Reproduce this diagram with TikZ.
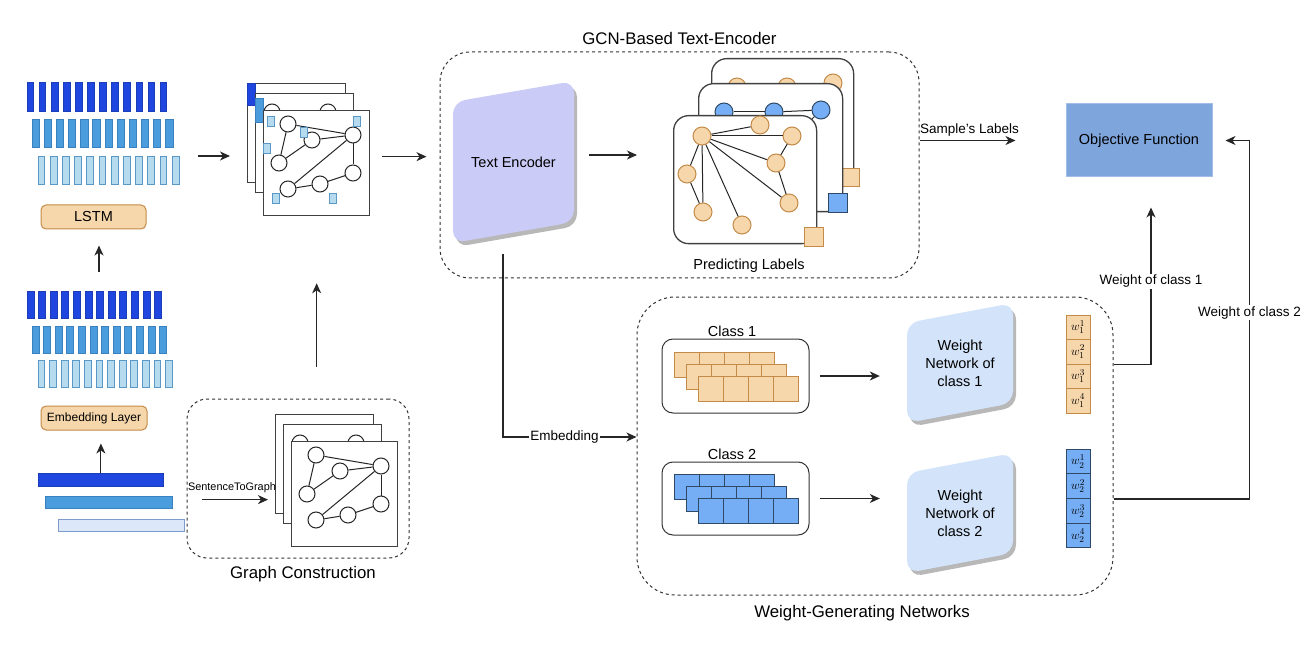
\documentclass[tikz,border=0pt]{standalone}
\usepackage{fontspec}
\setmainfont{Liberation Sans}
\usetikzlibrary{arrows.meta, positioning, calc}

\definecolor{barA}{HTML}{1F47E0}
\definecolor{barAd}{HTML}{1C3DB8}
\definecolor{barB}{HTML}{4A9CDC}
\definecolor{barBd}{HTML}{3A82BF}
\definecolor{barC}{HTML}{B6DAEE}
\definecolor{barCd}{HTML}{5A98C7}
\definecolor{tokC}{HTML}{DCE8FA}
\definecolor{tokCd}{HTML}{7D9CCB}
\definecolor{peachF}{HTML}{F6D6AB}
\definecolor{peachD}{HTML}{C48A47}
\definecolor{blueF}{HTML}{76AEF5}
\definecolor{blueD}{HTML}{2E4A66}
\definecolor{encF}{HTML}{CBCBF7}
\definecolor{wnF}{HTML}{D3E4FA}
\definecolor{objF}{HTML}{7FA5DD}
\definecolor{objD}{HTML}{A3BFE8}

% stack of three graph sheets: #1,#2 top-left of front sheet, #3 name prefix,
% #4 drawn on the back sheet, #5 drawn on the middle sheet
\newcommand{\graphstack}[5]{%
  \node[sheet, minimum width=98, minimum height=99] (#3b) at (#1-16,#2-27) {};
  #4
  \node[sheet, minimum width=98, minimum height=99] (#3m) at (#1-8,#2-17) {};
  \node[gnode] (#3m1) at (#1+9,#2+2) {};
  \node[gnode] (#3m2) at (#1+65,#2+2) {};
  #5
  \node[sheet, minimum width=106, minimum height=105] (#3f) at (#1,#2) {};
  \foreach \k/\px/\py in {1/25/14, 2/49/30, 3/90/25, 4/16/53, 5/90/63, 6/57/74, 7/25/79}
    \node[gnode] (#3\k) at (#1+\px,#2+\py) {};
  \foreach \a/\b in {1/3, 1/4, 4/2, 2/3, 3/5, 3/7, 7/6, 6/5}
    \draw[gedge] (#3\a) -- (#3\b);
}

% slanted block with shadow: x, y (top-left), width, left height, skew, fill
\newcommand{\slab}[6]{%
  \fill[black!28, rounded corners=12] (#1+3,#2+4) -- (#1+#3+3,#2-#5+4) -- (#1+#3+3,#2-#5+#4+4) -- (#1+3,#2+#4+4) -- cycle;
  \fill[#6, rounded corners=12] (#1,#2) -- (#1+#3,#2-#5) -- (#1+#3,#2-#5+#4) -- (#1,#2+#4) -- cycle;
}

\begin{document}
\begin{tikzpicture}[x=1pt, y=-1pt,
    arr/.style={-{Stealth[length=10pt, width=9pt, inset=3pt]}, line width=1.1pt, draw=black!85},
    group/.style={draw=black!80, dash pattern=on 3pt off 3pt, line width=1pt, inner sep=0},
    title/.style={font=\fontsize{16.8}{20}\selectfont, inner sep=0, text depth=0pt},
    lbl/.style={font=\fontsize{13.5}{16}\selectfont},
    boxfont/.style={font=\fontsize{14.5}{18}\selectfont},
    peach/.style={draw=peachD, fill=peachF, rounded corners=5, line width=1pt, inner sep=0},
    sheet/.style={draw=black!75, fill=white, line width=1.3pt, anchor=north west, inner sep=0},
    lsheet/.style={sheet, rounded corners=15},
    gnode/.style={circle, draw=black!85, fill=white, line width=1pt, minimum size=16, inner sep=0},
    gedge/.style={line width=1pt, draw=black!85},
    feat/.style={draw=barCd, fill=barC, line width=0.8pt, minimum width=7, minimum height=10, inner sep=0},
    lnode/.style={circle, draw=peachD, fill=peachF, line width=1pt, minimum size=18, inner sep=0},
    bnode/.style={circle, draw=blueD, fill=blueF, line width=1pt, minimum size=18, inner sep=0},
    osq/.style={draw=peachD, fill=peachF, line width=1pt, minimum size=19, inner sep=0},
    bsq/.style={draw=blueD, fill=blueF, line width=1pt, minimum size=19, inner sep=0},
    cbox/.style={draw=black!80, fill=white, line width=1pt, rounded corners=11, inner sep=0},
    ocell/.style={draw=peachD, fill=peachF, line width=1pt, minimum size=25, inner sep=0},
    bcell/.style={draw=blueD, fill=blueF, line width=1pt, minimum size=25, inner sep=0},
    wo/.style={draw=peachD, fill=peachF, line width=1pt, minimum width=24, minimum height=24.5, inner sep=0, font=\fontsize{13}{13}\selectfont},
    wb/.style={draw=blueD, fill=blueF, line width=1pt, minimum width=24, minimum height=24.75, inner sep=0, font=\fontsize{13}{13}\selectfont}
]
\useasboundingbox (0,0) rectangle (1307,647);

% LSTM outputs
\foreach \i in {0,...,11} {
  \draw[fill=barA, draw=barAd, line width=0.8pt] ({27+12.1*\i},82) rectangle ++(6.7,29);
  \draw[fill=barB, draw=barBd, line width=0.8pt] ({32+12.15*\i},119) rectangle ++(7.3,28);
  \draw[fill=barC, draw=barCd, line width=0.8pt] ({38+12.2*\i},156) rectangle ++(6.7,28);
}
\node[peach, boxfont, minimum width=105, minimum height=24] (lstm) at (93.5,217) {LSTM};

% embeddings
\foreach \i in {0,...,11} {
  \draw[fill=barA, draw=barAd, line width=0.8pt] ({27+11.6*\i},291) rectangle ++(7,27);
  \draw[fill=barB, draw=barBd, line width=0.8pt] ({32+11.6*\i},326) rectangle ++(7,27);
  \draw[fill=barC, draw=barCd, line width=0.8pt] ({38+11.6*\i},360) rectangle ++(6.7,27);
}
\node[peach, font=\fontsize{12}{14}\selectfont, minimum width=106, minimum height=24] (emb) at (94,418) {Embedding Layer};

% input tokens
\node[draw=barAd, fill=barA, line width=0.8pt, inner sep=0, minimum width=125, minimum height=13, anchor=north west] (tok1) at (38,473) {};
\node[draw=barBd, fill=barB, line width=0.8pt, inner sep=0, minimum width=127, minimum height=12, anchor=north west] (tok2) at (45,496) {};
\node[draw=tokCd, fill=tokC, line width=0.8pt, inner sep=0, minimum width=126, minimum height=12, anchor=north west] (tok3) at (58,519) {};

\coordinate (embout) at (99,272);
\draw[arr, shorten >=16] (embout) -- (embout |- lstm.south);
\draw[arr, shorten >=13] (tok1.north) -- (tok1.north |- emb.south);

% graph with LSTM features
\graphstack{263}{110}{gt}{\draw[fill=barA, draw=barAd, line width=0.8pt] (247,83) rectangle (255,105);}{\draw[fill=barB, draw=barBd, line width=0.8pt] (255,98) rectangle (263,122);}
\foreach \k/\px/\py in {1/8/11, 2/94/11, 3/41/22, 4/4/38, 5/13/88, 6/70/88}
  \node[feat] (gtx\k) at (263+\px,110+\py) {};

\coordinate (seqout) at (198,156);
\draw[arr, shorten >=17] (seqout) -- (seqout -| gtb.west);

% Graph construction
\node[group, minimum width=222, minimum height=159, rounded corners=20] (gc) at (298,478.5) {};
\node[title, below=8pt of gc, xshift=5pt] (gctitle) {Graph Construction};
\graphstack{291}{441}{gb}{}{}
\draw[arr, shorten <=15, shorten >=7] ($(gc.west |- gbf.west)+(0,5.5)$) -- ($(gbb.west |- gbf.west)+(0,5.5)$)
  node[pos=0, anchor=south west, inner sep=1pt, font=\fontsize{10.9}{12}\selectfont, yshift=5pt] {SentenceToGraph};
\draw[arr, shorten <=32, shorten >=67] (gtf.south |- gc.north) -- (gtf.south);

% GCN-based text encoder
\node[group, minimum width=479, minimum height=226, rounded corners=30] (gcn) at (679.5,165) {};
\node[title, above=7pt of gcn] (gcntitle) {GCN-Based Text-Encoder};
\slab{453}{102}{121}{141}{21}{encF}
\node[boxfont, minimum width=121, minimum height=141, inner sep=0] (enc) at (513.5,162) {Text Encoder};
\draw[arr, shorten <=12, shorten >=13] ($(gtf.east)+(0,-6.5)$) -- ($(gtf.east -| gcn.west)+(0,-6.5)$);

% predicted label graphs
\node[lsheet, minimum width=142, minimum height=125] (pb) at (711,58) {};
\node[lnode] (pb1) at (737,87) {};
\node[lnode] (pb2) at (787,87) {};
\node[lnode] (pb3) at (833,83) {};
\node[osq, minimum size=18] (pbs) at (850.5,177.5) {};
\node[lsheet, minimum width=144, minimum height=128] (pm) at (698,83) {};
\node[bnode] (pm1) at (724,112) {};
\node[bnode] (pm2) at (774,112) {};
\node[bnode] (pm3) at (821,110) {};
\coordinate (pmh) at (806,125);
\draw[gedge] (pm1) -- (pm2);
\draw[gedge] (pm2) -- (pm3);
\draw[gedge] (pm3) -- (pmh);
\node[bsq] (pms) at (837.5,203) {};
\node[lsheet, minimum width=143, minimum height=128] (pf) at (673,115) {};
\foreach \k/\px/\py in {1/702/136, 2/760/125, 3/792/136, 4/776/163, 5/687/174, 6/789/203, 7/703/212, 8/742/225}
  \node[lnode] (pf\k) at (\px,\py) {};
\foreach \a/\b in {1/2, 1/3, 1/4, 1/6, 1/8, 1/7, 1/5, 5/7, 3/4, 4/6}
  \draw[gedge] (pf\a) -- (pf\b);
\node[osq] (pfs) at (814,237.5) {};
\node[boxfont] (predlbl) at (749,266) {Predicting Labels};
\draw[arr, shorten <=15, shorten >=36] ($(enc.east)+(0,-7)$) -- ($(enc.east -| pf.west)+(0,-7)$);

% Objective function
\node[draw=objD, fill=objF, line width=1pt, boxfont, minimum width=146, minimum height=73] (obj) at (1139,140.5) {Objective Function};
\draw[arr, shorten >=50] (gcn.east |- obj.west) -- (obj.west)
  node[pos=0, anchor=south west, inner sep=1pt, lbl, yshift=3pt, xshift=-1pt] {Sample's Labels};

% Weight-generating networks
\node[group, minimum width=476, minimum height=298, rounded corners=38] (wg) at (875,446) {};
\node[title, below=10pt of wg, xshift=-13pt] (wgtitle) {Weight-Generating Networks};

\node[cbox, minimum width=147, minimum height=74] (class1) at (735.5,376) {};
\node[boxfont, anchor=base] at ([shift={(-3.5,-2)}]class1.north) {Class 1};
\foreach \r in {0,1,2}
  \foreach \c in {0,...,3}
    \node[ocell] (oc\r\c) at ({686.5+12*\r+25*\c},{364.5+12*\r}) {};

\node[cbox, minimum width=147, minimum height=73] (class2) at (735.5,498.5) {};
\node[boxfont, anchor=base] at ([shift={(-3.5,-2)}]class2.north) {Class 2};
\foreach \r in {0,1,2}
  \foreach \c in {0,...,3}
    \node[bcell] (bc\r\c) at ({686.5+12*\r+25*\c},{486.5+12*\r}) {};

\slab{907}{323}{106}{100}{20}{wnF}
\node[boxfont, align=center, minimum width=106, minimum height=100, inner sep=0] (wn1) at (960,363) {Weight\\Network of\\class 1};
\slab{907}{473}{106}{100}{20}{wnF}
\node[boxfont, align=center, minimum width=106, minimum height=100, inner sep=0] (wn2) at (960,513) {Weight\\Network of\\class 2};

\draw[arr, shorten <=10, shorten >=27] (class1.east) -- (class1.east -| wn1.west);
\draw[arr, shorten <=10, shorten >=27] (class2.east) -- (class2.east -| wn2.west);

% generated weights
\foreach \k/\py in {1/327.25, 2/351.75, 3/376.25, 4/400.75}
  \node[wo] (w1\k) at (1078,\py) {$w_1^{\k}$};
\foreach \k/\py in {1/461.4, 2/486.1, 3/510.9, 4/535.6}
  \node[wb] (w2\k) at (1078,\py) {$w_2^{\k}$};

\draw[arr] ([shift={(-10.5,21.5)}]enc.south) |- ($(wg.west)+(0,-9)$)
  node[pos=0.73, fill=white, inner sep=1pt, lbl] {Embedding};
\draw[arr] (wg.east |- w12.south) -| ([shift={(12,30)}]obj.south)
  node[pos=0.765, fill=white, inner sep=1pt, lbl] {Weight of class 1};
\draw[arr] (wg.east |- w22.south) -| ([xshift=37pt]obj.east)
  node[pos=0.76, fill=white, inner sep=1pt, lbl] {Weight of class 2} -- ([xshift=13pt]obj.east);

\end{tikzpicture}
\end{document}
